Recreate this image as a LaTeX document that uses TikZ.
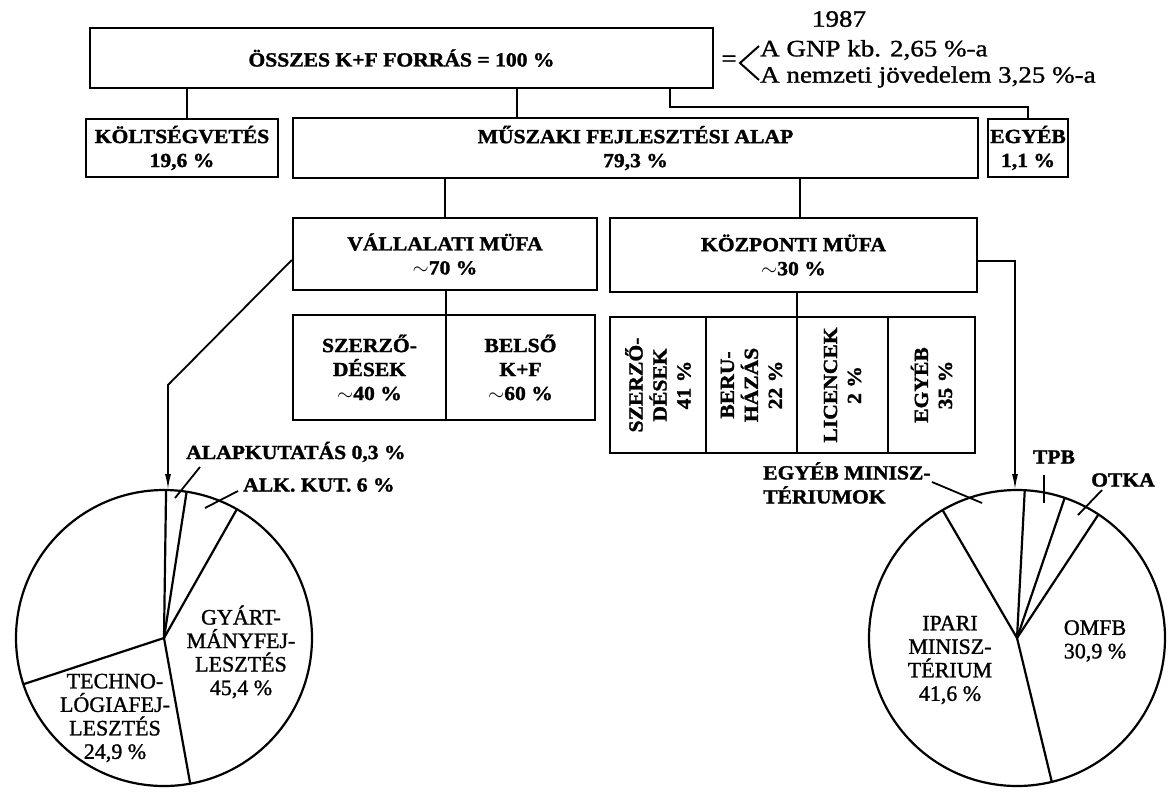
\documentclass[tikz,border=0pt]{standalone}
\usepackage{fontspec}
\setmainfont{Liberation Serif}[FakeBold=1.2]
\newfontfamily\lbl{Liberation Serif}[FakeStretch=1.08, BoldFeatures={FakeBold=1.5}]
\newfontfamily\widefam{Liberation Serif}[FakeStretch=1.15, FakeBold=1.2]
\usetikzlibrary{arrows.meta}
\newcommand\boxfont{\lbl\bfseries\fontsize{20}{24}\selectfont}
\newcommand\piefont{\fontsize{22}{23.5}\selectfont}
\newcommand\notefont{\widefam\fontsize{23.5}{26}\selectfont}
\tikzset{
  box/.style={draw, line width=2.4pt, inner sep=0pt, align=center, font=\boxfont},
  wire/.style={line width=2.4pt},
  pie/.style={line width=2.2pt},
  arr/.style={line width=1.8pt, -{Latex[length=16pt,width=6pt]}},
  plab/.style={align=center, font=\piefont, inner sep=0pt},
  blab/.style={font=\boxfont, inner sep=0pt, align=left},
  note/.style={font=\notefont, inner sep=0pt},
  leader/.style={line width=1.8pt}
}
\begin{document}
\begin{tikzpicture}[x=1pt,y=-1pt]
\path[use as bounding box, fill=white] (0,0) rectangle (1169,793);

% --- level 0 ---
\node[box, minimum width=623pt, minimum height=60pt] (main) at (401.5,58)
  {ÖSSZES K+F FORRÁS = 100 \%};
\node[note, anchor=center] (eq) at (729,61) {=};
\coordinate (ltA) at (759,46);
\coordinate (ltV) at (740,63);
\coordinate (ltB) at (759,80);
\draw[line width=2pt] (ltA) -- (ltV) -- (ltB);
\node[note] (year) at (839,19) {1987};
\node[note, anchor=west] (gnp) at (760,50) {A GNP kb. 2,65 \%-a};
\node[note, anchor=west] (nj) at (760,77) {A nemzeti jövedelem 3,25 \%-a};

% --- level 1 ---
\node[box, minimum width=192pt, minimum height=58pt] (kolt) at (182,148)
  {KÖLTSÉGVETÉS\\19,6 \%};
\node[box, minimum width=685pt, minimum height=60pt] (musz) at (635.5,148)
  {MŰSZAKI FEJLESZTÉSI ALAP\\79,3 \%};
\node[box, minimum width=80pt, minimum height=58pt] (egy) at (1028,148)
  {EGYÉB\\1,1 \%};

\coordinate (kx) at (187,0);
\coordinate (mx) at (517,0);
\coordinate (ex) at (670,0);
\draw[wire] (main.south -| kx) -- (kolt.north -| kx);
\draw[wire] (main.south -| mx) -- (musz.north -| mx);
\draw[wire] (main.south -| ex) -- ++(0,18) -| (egy.north);

% --- level 2 ---
\node[box, minimum width=304pt, minimum height=72pt] (vall) at (445,254)
  {VÁLLALATI MÜFA\\$\sim$70 \%};
\node[box, minimum width=367pt, minimum height=74pt] (koz) at (793.5,255)
  {KÖZPONTI MÜFA\\$\sim$30 \%};
\coordinate (zx) at (800,0);
\draw[wire] (musz.south -| vall.north) -- (vall.north);
\draw[wire] (musz.south -| zx) -- (koz.north -| zx);

% --- level 3: company funds ---
\node[box, minimum width=153pt, minimum height=105pt] (vsz) at (369.5,367.5)
  {SZERZŐ-\\DÉSEK\\$\sim$40 \%};
\node[box, minimum width=149pt, minimum height=105pt] (vbk) at (520.5,367.5)
  {BELSŐ\\K+F\\$\sim$60 \%};
\coordinate (vx) at (446,315);
\draw[wire] (vall.south -| vx) -- (vx);

% --- level 3: central funds (rotated labels) ---
\node[box, rotate=90, minimum width=136pt, minimum height=96pt] (k1) at (658,385)
  {SZERZŐ-\\DÉSEK\\41 \%};
\node[box, rotate=90, minimum width=136pt, minimum height=91pt] (k2) at (751.5,385)
  {BERU-\\HÁZÁS\\22 \%};
\node[box, rotate=90, minimum width=136pt, minimum height=91pt] (k3) at (842.5,385)
  {LICENCEK\\2 \%};
\node[box, rotate=90, minimum width=136pt, minimum height=87pt] (k4) at (931.5,385)
  {EGYÉB\\35 \%};
\coordinate (cx) at (797,317);
\draw[wire] (koz.south -| cx) -- (cx);

% --- pie: company funds ---
\coordinate (c1) at (164,638);
\draw[pie] (c1) circle[radius=148pt];
\foreach \a in {89.2,81.2,60.5,-79.8,198.2}
  \draw[pie] (c1) -- ++(\a:148pt);
\coordinate (b1) at (168,385);
\coordinate (t1) at (168,490);
\draw[arr] ([yshift=-6pt]vall.west) -- (b1) -- (t1);

\node[blab, anchor=west] (alap) at (186,452) {ALAPKUTATÁS 0,3 \%};
\node[blab, anchor=west] (alk) at (243,485) {ALK. KUT. 6 \%};
\coordinate (a1) at (200,467); \coordinate (a2) at (175,498);
\coordinate (a3) at (238,491); \coordinate (a4) at (205,508);
\draw[leader] (a1) -- (a2);
\draw[leader] (a3) -- (a4);
\node[plab] (gyart) at (241,652) {GYÁRT-\\MÁNYFEJ-\\LESZTÉS\\45,4 \%};
\node[plab] (tech) at (115,718) {TECHNO-\\LÓGIAFEJ-\\LESZTÉS\\24,9 \%};

% --- pie: central funds ---
\coordinate (c2) at (1017,638);
\draw[pie] (c2) circle[radius=148pt];
\foreach \a in {87,71.2,56.6,-76.4,120.2}
  \draw[pie] (c2) -- ++(\a:148pt);
\coordinate (b2) at (1015,261);
\coordinate (t2) at (1015,490);
\draw[arr] (koz.east |- b2) -- (b2) -- (t2);

\node[blab] (tpb) at (1054,457) {TPB};
\node[blab] (otka) at (1123,480) {OTKA};
\node[blab, anchor=north west] (egymin) at (763,462) {EGYÉB MINISZ-\\TÉRIUMOK};
\coordinate (o1) at (1044,475); \coordinate (o2) at (1044,503);
\coordinate (o3) at (1102,490); \coordinate (o4) at (1078,515);
\coordinate (o5) at (932,482);  \coordinate (o6) at (982,503);
\draw[leader] (o1) -- (o2);
\draw[leader] (o3) -- (o4);
\draw[leader] (o5) -- (o6);
\node[plab] (ipari) at (950,660) {IPARI\\MINISZ-\\TÉRIUM\\41,6 \%};
\node[plab] (omfb) at (1095,641) {OMFB\\30,9 \%};
\end{tikzpicture}
\end{document}
